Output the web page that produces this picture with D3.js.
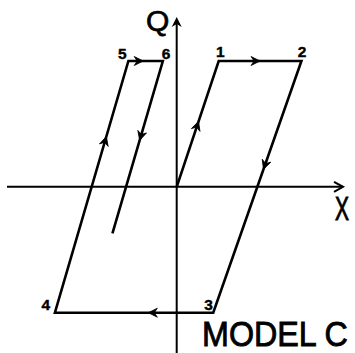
<!DOCTYPE html>
<html>
<head>
<meta charset="utf-8">
<script src="https://cdn.jsdelivr.net/npm/d3@7"></script>
<style>
  body { margin: 0; background: #fff; }
  svg { display: block; }
</style>
</head>
<body>
<div id="chart"></div>
<script>
// hysteresis path, in order: origin, 1..6, end of the last branch
let pathX = [0, 1.0, 2.97, 0.87, -2.9, -1.15, -0.33, -1.53];
let pathQ = [0, 1, 1, -1, -1, 1, 1, -0.37];
let pointLabels = ["", "1", "2", "3", "4", "5", "6", ""];
// where the arrowhead sits on each segment (fraction of its length)
let arrowAt = [0.52, 0.5, 0.43, 0.41, 0.7, 0.43, 0.46];
let xAxisExtent = [-4.04, 3.96];
let qAxisExtent = [-1.32, 1.35];

let width = 355, height = 353;

// label offsets from their points, in px
let labelOffset = {
  "1": [1.5, -4], "2": [0.6, -4], "3": [-4.7, -3],
  "4": [-9, -3], "5": [-6, -2], "6": [3.2, -2]
};

let svg = d3.select("#chart").append("svg")
    .attr("width", width)
    .attr("height", height);

let x = d3.scaleLinear().domain([-4, 4]).range([8.7, 344.7]);
let y = d3.scaleLinear().domain([-1, 1]).range([312.7, 61]);

let pts = pathX.map((d, i) => ({x: d, q: pathQ[i], label: pointLabels[i]}));

// axes
svg.append("line")
    .attr("x1", x(xAxisExtent[0])).attr("x2", x(xAxisExtent[1]))
    .attr("y1", y(0)).attr("y2", y(0))
    .attr("stroke", "#000").attr("stroke-width", 2);
svg.append("line")
    .attr("x1", x(0)).attr("x2", x(0))
    .attr("y1", y(qAxisExtent[0])).attr("y2", y(qAxisExtent[1]) + 4)
    .attr("stroke", "#000").attr("stroke-width", 2);

// open chevron on X axis
let xe = x(xAxisExtent[1]), y0 = y(0);
svg.append("path")
    .attr("d", "M" + (xe - 9) + "," + (y0 - 5) + "L" + xe + "," + y0 + "L" + (xe - 9) + "," + (y0 + 5))
    .attr("fill", "none").attr("stroke", "#000").attr("stroke-width", 2);

// filled head on Q axis
let qe = y(qAxisExtent[1]), x0 = x(0);
svg.append("path")
    .attr("d", "M" + x0 + "," + qe + "L" + (x0 - 5) + "," + (qe + 10) + "L" + x0 + "," + (qe + 7) + "L" + (x0 + 5) + "," + (qe + 10) + "Z")
    .attr("fill", "#000");

// the loop
let line = d3.line()
    .x(d => x(d.x))
    .y(d => y(d.q));

svg.append("path")
    .datum(pts)
    .attr("d", line)
    .attr("fill", "none")
    .attr("stroke", "#000")
    .attr("stroke-width", 2.6)
    .attr("stroke-linejoin", "miter");

// arrowheads along segments
let segs = d3.pairs(pts).map((p, i) => ({a: p[0], b: p[1], t: arrowAt[i]}));
svg.selectAll(".arrow")
    .data(segs)
    .enter()
    .append("path")
    .attr("class", "arrow")
    .attr("d", "M0,0L-9,-4.5L-6,0L-9,4.5Z")
    .attr("fill", "#000")
    .attr("stroke", "#000")
    .attr("stroke-width", 0.8)
    .attr("transform", function(d) {
      let ax = x(d.a.x), ay = y(d.a.q), bx = x(d.b.x), by = y(d.b.q);
      let px = ax + (bx - ax) * d.t, py = ay + (by - ay) * d.t;
      let ang = Math.atan2(by - ay, bx - ax) * 180 / Math.PI;
      return "translate(" + px + "," + py + ") rotate(" + ang + ")";
    });

// point numbers
svg.selectAll(".num")
    .data(pts.filter(d => d.label))
    .enter()
    .append("text")
    .attr("class", "num")
    .attr("x", d => x(d.x) + labelOffset[d.label][0])
    .attr("y", d => y(d.q) + labelOffset[d.label][1])
    .attr("text-anchor", "middle")
    .attr("font-family", "Liberation Sans, Arial, sans-serif")
    .attr("font-weight", "bold")
    .attr("font-size", 15.5)
    .attr("stroke", "#000")
    .attr("stroke-width", 0.4)
    .text(d => d.label);

// axis names and title (squeezed sideways to look condensed)
svg.append("text")
    .attr("x", x(0) - 19).attr("y", 31)
    .attr("text-anchor", "middle")
    .attr("font-family", "Liberation Sans, Arial, sans-serif")
    .attr("font-size", 30)
    .attr("stroke", "#000")
    .attr("stroke-width", 0.7)
    .text("Q");

svg.append("text")
    .attr("transform", "translate(335,220) scale(1,1.62)")
    .attr("font-family", "Liberation Sans, Arial, sans-serif")
    .attr("font-size", 21)
    .attr("stroke", "#000")
    .attr("stroke-width", 0.6)
    .text("X");

svg.append("text")
    .attr("transform", "translate(202,345.5) scale(1,1.1)")
    .attr("font-family", "Liberation Sans, Arial, sans-serif")
    .attr("font-size", 32.3)
    .attr("stroke", "#000")
    .attr("stroke-width", 0.8)
    .text("MODEL C");
</script>
</body>
</html>
